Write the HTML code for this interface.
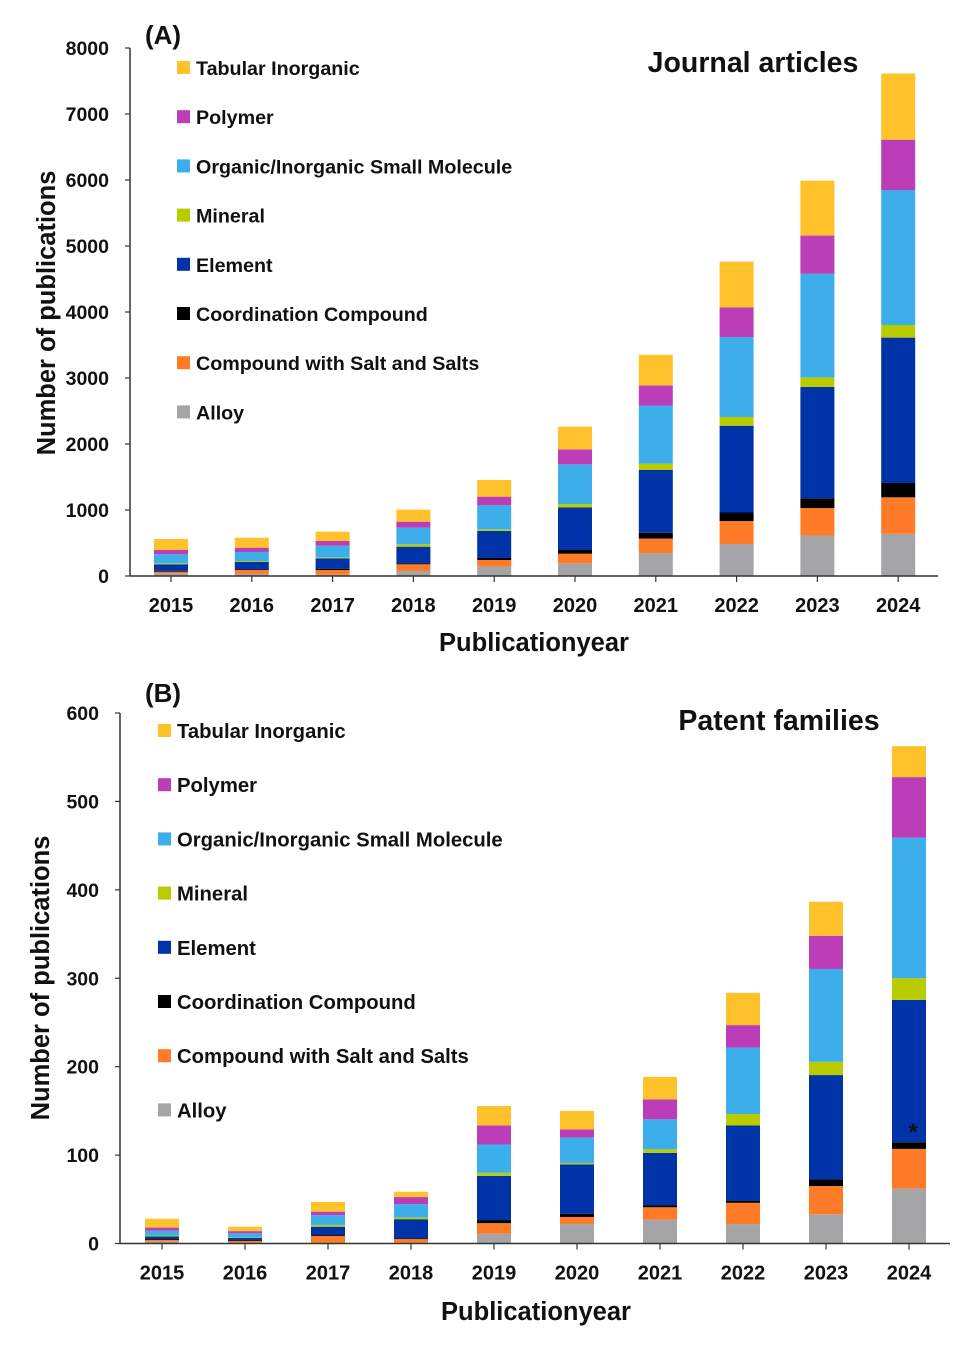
<!DOCTYPE html>
<html><head><meta charset="utf-8"><style>
html,body{margin:0;padding:0;background:#fff;}
svg{display:block;font-family:"Liberation Sans",sans-serif;font-weight:bold;}
</style></head><body>
<svg id="c" width="969" height="1350" viewBox="0 0 969 1350" xmlns="http://www.w3.org/2000/svg"></svg>
<script>
const years = ["2015","2016","2017","2018","2019","2020","2021","2022","2023","2024"];
const seriesNames = ["Alloy","Compound with Salt and Salts","Coordination Compound","Element","Mineral","Organic/Inorganic Small Molecule","Polymer","Tabular Inorganic"];
const seriesKeys = ["alloy","compound","coordination","element","mineral","small-molecule","polymer","tabular"];
const colors = ["#a5a5a7","#ff7b27","#000000","#0033a8","#b9cc00","#3caeea","#bb3db8","#ffc22a"];
// Journal articles (A)
const jAlloy = [40,30,20,76,141,192,348,485,614,639];
const jCompound = [25,60,70,101,101,146,220,348,416,553];
const jCoord = [15,10,21,15,31,56,87,129,148,217];
const jElement = [97,112,157,252,409,646,951,1315,1686,2203];
const jMineral = [15,15,15,36,25,51,97,132,145,191];
const jSmall = [137,137,176,252,364,601,880,1212,1570,2045];
const jPolymer = [65,65,71,91,131,227,303,447,579,763];
const jTabular = [166,151,141,182,253,343,466,696,833,1003];
const jTicks = [0,1000,2000,3000,4000,5000,6000,7000,8000];
// Patent families (B)
const pAlloy = [2,1,1,1,11,22,27,22,33,62];
const pCompound = [2,2,7.5,4,12,8,14,24,32,45];
const pCoord = [1,1,1,1,3.5,3.5,2,2.5,7.5,7.5];
const pElement = [3,2.5,9.5,21.5,50,56,59.5,85,118,161];
const pMineral = [1,0.5,2,2,3.5,1.5,4,13,15,24.5];
const pSmall = [5.5,4.5,11,15,32,29,34,75,105,159];
const pPolymer = [3.5,2.5,4,8,21.5,9,22.5,25.5,37.5,68.5];
const pTabular = [10,5,11,6,22,21,25.5,36.5,38.5,35];
const pTicks = [0,100,200,300,400,500,600];

const NS="http://www.w3.org/2000/svg";
const svg=document.getElementById('c');
function mk(tag,attrs,parent){const e=document.createElementNS(NS,tag);for(const k in attrs)e.setAttribute(k,attrs[k]);(parent||svg).appendChild(e);return e;}
function txt(s,attrs,parent){const e=mk('text',attrs,parent);e.textContent=s;return e;}

function drawChart(cfg){
  const g=mk('g',{});
  
  
  const yScale=v=>cfg.y0-(v/cfg.max)*(cfg.y0-cfg.yTop);
  const xScale=i=>cfg.xFirst+i*cfg.step;
  years.forEach((yr,i)=>{
    let acc=0;
    cfg.data.forEach((arr,s)=>{
      const v=arr[i];
      const y1=yScale(acc), y2=yScale(acc+v);
      const r=mk('rect',{x:xScale(i)-cfg.bw/2,y:y2,width:cfg.bw,height:Math.max(0,y1-y2),fill:colors[s]},g);
      
      
      acc+=v;
    });
  });
  const ya=mk('line',{x1:cfg.xAxis,y1:cfg.yTop,x2:cfg.xAxis,y2:cfg.y0,stroke:'#333','stroke-width':1.5},g);
  
  const xa=mk('line',{x1:cfg.xAxis,y1:cfg.y0,x2:cfg.xEnd,y2:cfg.y0,stroke:'#333','stroke-width':1.5},g);
  
  cfg.ticks.forEach(t=>{
    const y=yScale(t);
    mk('line',{x1:cfg.xAxis-5,y1:y,x2:cfg.xAxis,y2:y,stroke:'#333','stroke-width':1.2},g);
    const l=txt(String(t),{x:cfg.xAxis-21,y:y+7,'text-anchor':'end','font-size':19.5,fill:'#111'},g);
    
  });
  years.forEach((yr,i)=>{
    const x=xScale(i);
    mk('line',{x1:x,y1:cfg.y0,x2:x,y2:cfg.y0+6,stroke:'#333','stroke-width':1.2},g);
    const l=txt(yr,{x:x,y:cfg.y0+36,'text-anchor':'middle','font-size':20,fill:'#111'},g);
    
  });
  const xt=txt('Publicationyear',{x:cfg.xTitleX,y:cfg.xTitleY,'text-anchor':'middle','font-size':25.5,fill:'#111'},g);
  
  const yt=txt('Number of publications',{x:0,y:0,'text-anchor':'middle','font-size':25.5,fill:'#111',transform:`translate(${cfg.yTitleX},${cfg.yTitleY}) rotate(-90)`},g);
  
  const pl=txt(cfg.panel,{x:cfg.panelX,y:cfg.panelY,'text-anchor':'middle','font-size':26,fill:'#111'},g);
  
  const ti=txt(cfg.title,{x:cfg.titleX,y:cfg.titleY,'text-anchor':'middle','font-size':28.5,fill:'#111'},g);
  
  for(let k=0;k<8;k++){
    const s=7-k;
    const y=cfg.legY+k*cfg.legStep;
    const lg=mk('g',{},g);
    
    
    mk('rect',{x:cfg.legX,y:y-7,width:13,height:13,fill:colors[s]},lg);
    txt(seriesNames[s],{x:cfg.legX+19,y:y+7,'font-size':cfg.legFont,fill:'#111'},lg);
  }
  return {g,xScale,yScale};
}

drawChart({name:'journal-articles-chart',data:[jAlloy,jCompound,jCoord,jElement,jMineral,jSmall,jPolymer,jTabular],
  ticks:jTicks,max:8000,y0:576,yTop:48,xAxis:130,xEnd:938,xFirst:171,step:80.8,bw:34,
  xTitleX:534,xTitleY:651,yTitleX:55,yTitleY:313,panel:'(A)',panelX:163,panelY:44,
  title:'Journal articles',titleX:753,titleY:72,legX:177,legY:68,legStep:49.2,legFont:19.7});

drawChart({name:'patent-families-chart',data:[pAlloy,pCompound,pCoord,pElement,pMineral,pSmall,pPolymer,pTabular],
  ticks:pTicks,max:600,y0:1243.5,yTop:713,xAxis:120,xEnd:950,xFirst:162,step:83,bw:34,
  xTitleX:536,xTitleY:1320,yTitleX:49,yTitleY:978,panel:'(B)',panelX:163,panelY:702,
  title:'Patent families',titleX:779,titleY:730,legX:158,legY:731,legStep:54.2,legFont:20.3});
const ast=txt('*',{x:913,y:1140,'text-anchor':'middle','font-size':24,fill:'#111'});


</script>
</body></html>
